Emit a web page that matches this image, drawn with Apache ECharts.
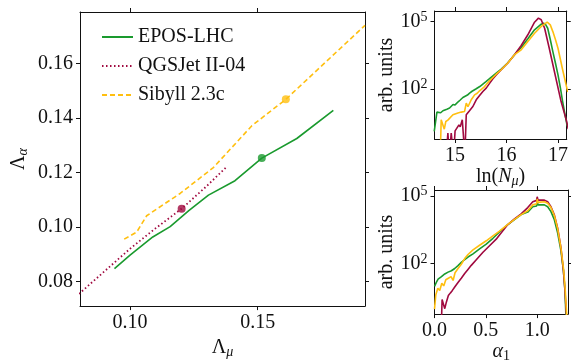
<!DOCTYPE html>
<html>
<head>
<meta charset="utf-8">
<script src="https://cdn.jsdelivr.net/npm/echarts@6/dist/echarts.min.js"></script>
<style>
  html, body { margin: 0; padding: 0; background: #fff; }
  #chart { width: 571px; height: 364px; }
</style>
</head>
<body>
<div id="chart"></div>
<script>
// ---- main panel: Lambda_alpha vs Lambda_mu ----
const eposMain = [[0.0939, 0.0847], [0.1000, 0.0896], [0.1089, 0.0963], [0.1157, 0.1001], [0.1230, 0.1060],
  [0.1307, 0.1117], [0.1411, 0.1170], [0.1516, 0.1253], [0.1653, 0.1325], [0.1796, 0.1428]];
const qgsMain = [[0.0800, 0.0754], [0.0900, 0.0837], [0.1000, 0.0920], [0.1100, 0.0995], [0.1202, 0.1067],
  [0.1300, 0.1150], [0.1375, 0.1218]];
const sibyllMain = [[0.0977, 0.0955], [0.1026, 0.0981], [0.1065, 0.1041], [0.1196, 0.1123], [0.1326, 0.1218],
  [0.1477, 0.1372], [0.1610, 0.1469], [0.1920, 0.1741]];
const eposMean = [[0.1516, 0.1253]];
const qgsMean = [[0.1202, 0.1067]];
const sibyllMean = [[0.1610, 0.1469]];

// ---- top right: ln(N_mu) histograms, values are log10(counts) ----
const lnNEpos = [[14.595, 0.10], [14.647, 0.96], [14.685, 0.99], [14.72, 0.93], [14.764, 1.02], [14.80, 0.97],
  [14.84, 1.09], [14.893, 1.14], [14.93, 1.20], [14.96, 1.30], [15.0, 1.28], [15.023, 1.36], [15.06, 1.42],
  [15.10, 1.50], [15.152, 1.61], [15.19, 1.66], [15.24, 1.72], [15.282, 1.81], [15.33, 1.89], [15.411, 2.0],
  [15.48, 2.10], [15.54, 2.21], [15.60, 2.32], [15.67, 2.45], [15.735, 2.58], [15.799, 2.70], [15.897, 2.88],
  [16.025, 3.16], [16.155, 3.52], [16.285, 3.84], [16.414, 4.23], [16.544, 4.63], [16.674, 4.88], [16.72, 4.93],
  [16.76, 4.86], [16.80, 4.70], [16.85, 4.20], [16.90, 3.66], [16.95, 3.15], [17.0, 2.62], [17.05, 2.0],
  [17.09, 1.43], [17.14, 0.80], [17.18, 0.32]];
const lnNQgs = [[14.828, -1], [14.86, 0.02], [14.89, -1], [14.925, 0.02], [14.97, -1], [15.0, 0.12],
  [15.023, 0.17], [15.075, 0.39], [15.10, 0.30], [15.14, 0.62], [15.17, 0.69], [15.19, -1], [15.217, 0.84],
  [15.28, 1.02], [15.346, 1.21], [15.411, 1.51], [15.476, 1.70], [15.54, 1.88], [15.605, 2.03], [15.67, 2.24],
  [15.735, 2.45], [15.799, 2.62], [15.897, 2.85], [16.025, 3.15], [16.155, 3.52], [16.285, 3.93], [16.414, 4.41],
  [16.544, 4.97], [16.62, 5.15], [16.674, 5.08], [16.74, 4.70], [16.83, 3.81], [16.93, 2.77], [17.06, 1.43],
  [17.16, 0.62], [17.2, 0.2]];
const lnNSibyll = [[14.712, -1], [14.73, 0.62], [14.764, 0.60], [14.79, 0.20], [14.82, 0.54], [14.86, 0.60],
  [14.893, 0.62], [14.958, 0.84], [15.0, 0.88], [15.055, 0.92], [15.12, 0.96], [15.184, 0.99], [15.217, 1.36],
  [15.25, 1.20], [15.269, 1.21], [15.314, 1.51], [15.34, 1.45], [15.379, 1.73], [15.43, 1.80], [15.476, 1.91],
  [15.573, 2.10], [15.67, 2.36], [15.799, 2.65], [15.897, 2.85], [16.025, 3.15], [16.155, 3.52], [16.285, 3.74],
  [16.414, 4.11], [16.544, 4.48], [16.674, 4.78], [16.79, 4.97], [16.85, 4.85], [16.90, 4.55], [16.95, 4.20],
  [17.0, 3.81], [17.09, 2.85], [17.19, 1.85]];

// ---- bottom right: alpha_1 histograms, log10(counts) ----
const alphaEpos = [[0.0, 0.99], [0.019, 1.18], [0.035, 1.31], [0.05, 1.35], [0.068, 1.42], [0.085, 1.45],
  [0.100, 1.54], [0.115, 1.56], [0.132, 1.62], [0.15, 1.63], [0.165, 1.68], [0.18, 1.72], [0.197, 1.78],
  [0.229, 1.91], [0.261, 2.05], [0.294, 2.17], [0.326, 2.29], [0.375, 2.43], [0.439, 2.65], [0.504, 2.86],
  [0.569, 3.12], [0.633, 3.40], [0.714, 3.73], [0.779, 3.95], [0.844, 4.17], [0.908, 4.28], [0.957, 4.52],
  [0.995, 4.55], [1.0, 4.77], [1.008, 4.60], [1.07, 4.60], [1.102, 4.52], [1.134, 4.30], [1.167, 3.94],
  [1.199, 3.36], [1.231, 2.57], [1.255, 1.71], [1.27, 0.84], [1.28, -0.32]];
const alphaQgs = [[0.065, -1], [0.074, 0.41], [0.087, 0.48], [0.10, 0.0], [0.116, 0.30], [0.135, 0.58],
  [0.155, 0.70], [0.174, 0.81], [0.197, 0.96], [0.229, 1.16], [0.261, 1.35], [0.294, 1.56], [0.326, 1.74],
  [0.358, 1.92], [0.407, 2.17], [0.472, 2.50], [0.536, 2.79], [0.601, 3.08], [0.633, 3.27], [0.714, 3.73],
  [0.779, 3.98], [0.844, 4.20], [0.908, 4.48], [0.957, 4.74], [0.995, 4.80], [1.0, 4.96], [1.008, 4.81],
  [1.07, 4.81], [1.102, 4.74], [1.134, 4.52], [1.167, 4.16], [1.199, 3.58], [1.231, 2.72], [1.255, 1.71],
  [1.27, 0.84], [1.285, -0.32]];
const alphaSibyll = [[0.0, -0.02], [0.013, 0.62], [0.032, 0.91], [0.051, 0.81], [0.071, 1.13], [0.090, 1.01],
  [0.11, 1.28], [0.135, 1.35], [0.161, 1.42], [0.181, 1.25], [0.2, 1.59], [0.229, 1.78], [0.261, 1.97],
  [0.294, 2.22], [0.326, 2.40], [0.375, 2.61], [0.439, 2.81], [0.504, 3.01], [0.569, 3.23], [0.633, 3.44],
  [0.714, 3.74], [0.779, 3.96], [0.844, 4.17], [0.908, 4.34], [0.957, 4.60], [0.995, 4.65], [1.0, 4.86],
  [1.008, 4.71], [1.07, 4.74], [1.102, 4.67], [1.134, 4.48], [1.167, 4.13], [1.199, 3.55], [1.231, 2.70],
  [1.258, 1.71], [1.273, 0.84], [1.288, -0.32]];

// tick values
const mainXTicks = [0.10, 0.15];
const mainYTicks = [0.08, 0.10, 0.12, 0.14, 0.16];
const lnNTicks = [15, 16, 17];
const alphaTicks = [0.0, 0.5, 1.0];
const logTicks = [2, 5];

const GREEN = '#1a9a2e';
const RED = '#a0093f';
const YELLOW = '#ffbf10';
const FONT = 'Liberation Serif';
const INK = '#111';

const rich = {
  n: { fontFamily: FONT, fontSize: 20, color: INK },
  sub: { fontFamily: FONT, fontSize: 14, fontStyle: 'italic', color: INK, padding: [8, 0, 0, 0] },
  subUp: { fontFamily: FONT, fontSize: 14, color: INK, padding: [8, 0, 0, 0] },
  it: { fontFamily: FONT, fontSize: 20, fontStyle: 'italic', color: INK },
  sup: { fontFamily: FONT, fontSize: 14, color: INK, padding: [0, 0, 9, 0] }
};

const lineAx = { show: true, onZero: false, lineStyle: { color: INK, width: 1 } };
const labelStyle = { fontFamily: FONT, fontSize: 20, color: INK };

function xAx(grid, min, max, ticks, fmt, name, nameGap) {
  return [
    {
      type: 'value', gridIndex: grid, min, max, position: 'bottom',
      axisLine: lineAx,
      axisTick: { show: true, length: 4, customValues: ticks, lineStyle: { color: INK } },
      axisLabel: Object.assign({ customValues: ticks, margin: 7, formatter: fmt, rich }, labelStyle),
      splitLine: { show: false },
      name, nameLocation: 'middle', nameGap,
      nameTextStyle: Object.assign({ rich }, labelStyle)
    },
    {
      type: 'value', gridIndex: grid, min, max, position: 'top',
      axisLine: lineAx,
      axisTick: { show: true, length: 4, customValues: ticks, lineStyle: { color: INK } },
      axisLabel: { show: false },
      splitLine: { show: false }
    }
  ];
}

function yAx(grid, min, max, ticks, fmt, name, nameGap) {
  return [
    {
      type: 'value', gridIndex: grid, min, max, position: 'left',
      axisLine: lineAx,
      axisTick: { show: true, length: 4, customValues: ticks, lineStyle: { color: INK } },
      axisLabel: Object.assign({ customValues: ticks, margin: 7, formatter: fmt, rich }, labelStyle),
      splitLine: { show: false },
      name, nameLocation: 'middle', nameGap,
      nameTextStyle: Object.assign({ rich }, labelStyle)
    },
    {
      type: 'value', gridIndex: grid, min, max, position: 'right',
      axisLine: lineAx,
      axisTick: { show: true, length: 4, customValues: ticks, lineStyle: { color: INK } },
      axisLabel: { show: false },
      splitLine: { show: false }
    }
  ];
}

const logFmt = (v) => '{n|10}{sup|' + Math.round(v) + '}';
const fixedFmt = (d) => (v) => '{n|' + v.toFixed(d) + '}';

function hist(name, data, color, axis) {
  return {
    name, type: 'line', data, xAxisIndex: axis, yAxisIndex: axis,
    symbol: 'none', clip: true, silent: true,
    lineStyle: { color, width: 1.6 }
  };
}

function meanDot(name, data, color) {
  return {
    name, type: 'scatter', data, xAxisIndex: 0, yAxisIndex: 0,
    symbol: 'circle', symbolSize: 8, itemStyle: { color }, z: 5
  };
}

const chart = echarts.init(document.getElementById('chart'), null, { renderer: 'canvas' });
chart.setOption({
  animation: false,
  backgroundColor: '#fff',
  textStyle: { fontFamily: FONT },
  grid: [
    { left: 80, top: 12, width: 285, height: 305 },
    { left: 434.5, top: 11, width: 133.5, height: 128 },
    { left: 434.5, top: 190, width: 133.5, height: 127 }
  ],
  legend: {
    data: ['EPOS-LHC', 'QGSJet II-04', 'Sibyll 2.3c'],
    orient: 'vertical', left: 96, top: 22,
    itemWidth: 31, itemHeight: 14, itemGap: 9,
    itemStyle: { opacity: 0 },
    textStyle: { fontFamily: FONT, fontSize: 20, color: INK, lineHeight: 20 }
  },
  xAxis: [
    ...xAx(0, 0.0804, 0.1920, mainXTicks, fixedFmt(2), 'Λ{sub|μ}', 26),
    ...xAx(1, 14.6, 17.17, lnNTicks, fixedFmt(0), 'ln({it|N}{sub|μ})', 26),
    ...xAx(2, 0, 1.3, alphaTicks, fixedFmt(1), '{it|α}{subUp|1}', 26)
  ],
  yAxis: [
    ...yAx(0, 0.0709, 0.1790, mainYTicks, fixedFmt(2), 'Λ{sub|α}', 50),
    ...yAx(1, -0.24, 5.47, logTicks, logFmt, 'arb. units', 38),
    ...yAx(2, -0.24, 5.26, logTicks, logFmt, 'arb. units', 38)
  ],
  series: [
    {
      name: 'EPOS-LHC', type: 'line', data: eposMain, xAxisIndex: 0, yAxisIndex: 0,
      symbol: 'none', clip: true, lineStyle: { color: GREEN, width: 1.6 }, itemStyle: { color: GREEN }
    },
    {
      name: 'QGSJet II-04', type: 'line', data: qgsMain, xAxisIndex: 0, yAxisIndex: 0,
      symbol: 'none', clip: true, lineStyle: { color: RED, width: 1.8, type: [1.5, 2.5] }, itemStyle: { color: RED }
    },
    {
      name: 'Sibyll 2.3c', type: 'line', data: sibyllMain, xAxisIndex: 0, yAxisIndex: 0,
      symbol: 'none', clip: true, lineStyle: { color: YELLOW, width: 1.6, type: [5, 3] }, itemStyle: { color: YELLOW }
    },
    meanDot('EPOS-LHC mean', eposMean, GREEN),
    meanDot('QGSJet II-04 mean', qgsMean, RED),
    meanDot('Sibyll 2.3c mean', sibyllMean, YELLOW),
    hist('EPOS-LHC lnN', lnNEpos, GREEN, 2),
    hist('QGSJet II-04 lnN', lnNQgs, RED, 2),
    hist('Sibyll 2.3c lnN', lnNSibyll, YELLOW, 2),
    hist('EPOS-LHC alpha', alphaEpos, GREEN, 4),
    hist('QGSJet II-04 alpha', alphaQgs, RED, 4),
    hist('Sibyll 2.3c alpha', alphaSibyll, YELLOW, 4)
  ]
});
</script>
</body>
</html>
